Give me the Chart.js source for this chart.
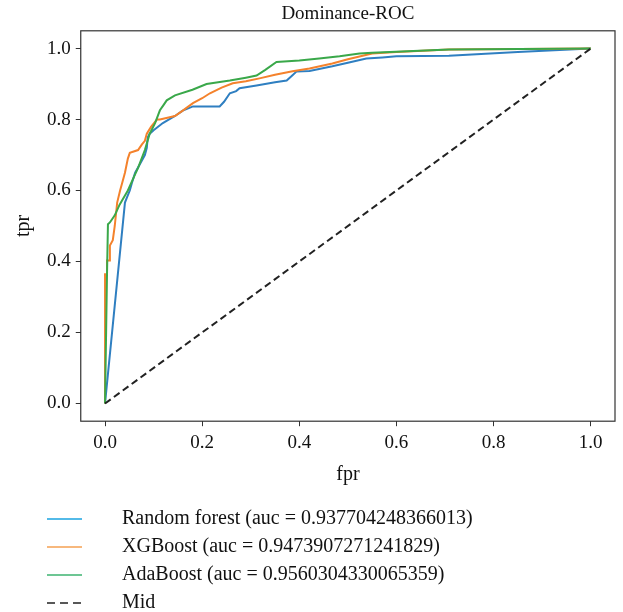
<!DOCTYPE html>
<html>
<head>
<meta charset="utf-8">
<script src="https://cdn.jsdelivr.net/npm/chart.js@4.4.1/dist/chart.umd.min.js"></script>
<style>
  html, body { margin: 0; padding: 0; background: #fff; }
  #wrap { width: 623px; height: 612px; }
</style>
</head>
<body>
<div id="wrap"><canvas id="roc"></canvas></div>
<script>
// ROC points
const rfFpr = [0, 0.041, 0.045, 0.051, 0.055, 0.062, 0.07, 0.082, 0.086, 0.088, 0.092, 0.1, 0.119, 0.144, 0.16, 0.181, 0.236, 0.245, 0.257, 0.27, 0.277, 0.312, 0.35, 0.374, 0.386, 0.394, 0.421, 0.468, 0.5, 0.538, 0.571, 0.6, 0.708, 0.85, 1.0]
const rfTpr = [0, 0.566, 0.58, 0.6, 0.62, 0.65, 0.67, 0.7, 0.72, 0.75, 0.76, 0.77, 0.79, 0.81, 0.825, 0.837, 0.837, 0.85, 0.874, 0.88, 0.888, 0.896, 0.905, 0.91, 0.925, 0.935, 0.937, 0.95, 0.96, 0.972, 0.975, 0.978, 0.98, 0.99, 1.0]

const xgbFpr = [0, 0, 0.004, 0.004, 0.01, 0.01, 0.016, 0.02, 0.025, 0.031, 0.035, 0.041, 0.047, 0.051, 0.068, 0.076, 0.082, 0.086, 0.095, 0.107, 0.113, 0.144, 0.16, 0.181, 0.2, 0.216, 0.24, 0.263, 0.29, 0.318, 0.35, 0.386, 0.421, 0.468, 0.5, 0.55, 0.6, 0.708, 1.0]
const xgbTpr = [0, 0.364, 0.364, 0.403, 0.403, 0.445, 0.46, 0.5, 0.566, 0.6, 0.62, 0.65, 0.69, 0.706, 0.714, 0.73, 0.74, 0.76, 0.78, 0.8, 0.8, 0.81, 0.825, 0.846, 0.86, 0.874, 0.89, 0.902, 0.908, 0.916, 0.926, 0.936, 0.944, 0.958, 0.97, 0.986, 0.99, 0.997, 1.0]

const adaFpr = [0, 0.004, 0.006, 0.01, 0.02, 0.03, 0.047, 0.06, 0.068, 0.082, 0.092, 0.103, 0.113, 0.12, 0.127, 0.144, 0.18, 0.209, 0.257, 0.29, 0.312, 0.33, 0.353, 0.4, 0.441, 0.483, 0.524, 0.55, 0.708, 1.0]
const adaTpr = [0, 0.36, 0.505, 0.51, 0.53, 0.56, 0.6, 0.64, 0.664, 0.714, 0.76, 0.79, 0.826, 0.84, 0.854, 0.868, 0.884, 0.9, 0.91, 0.918, 0.924, 0.94, 0.962, 0.966, 0.972, 0.978, 0.986, 0.988, 0.997, 1.0]

const midFpr = [0, 1]
const midTpr = [0, 1]

const seriesNames = [
  'Random forest (auc = 0.937704248366013)',
  'XGBoost (auc = 0.9473907271241829)',
  'AdaBoost (auc = 0.9560304330065359)',
  'Mid'
]
const xTicks = [0, 0.2, 0.4, 0.6, 0.8, 1.0]
const yTicks = [0, 0.2, 0.4, 0.6, 0.8, 1.0]

const serif = "'Liberation Serif', 'DejaVu Serif', serif"
const lineColors = ['#2f7fc1', '#f4822c', '#3aa84a', '#222']
const keyColors = ['#1aa3e0', '#f5a052', '#3cb371', '#222']

function toPoints(xs, ys) {
  return xs.map((x, i) => ({ x, y: ys[i] }))
}

// legend key: short line on the left part of a wider box so the text sits further right
function legendIcon(color, dash) {
  const c = document.createElement('canvas')
  c.width = 96
  c.height = 4
  const g = c.getContext('2d')
  g.strokeStyle = color
  g.lineWidth = 1.5
  g.setLineDash(dash)
  g.beginPath()
  g.moveTo(31, 2)
  g.lineTo(66, 2)
  g.stroke()
  return c
}

const frame = {
  id: 'frame',
  afterDatasetsDraw(chart) {
    const { ctx, chartArea: a } = chart
    ctx.save()
    ctx.strokeStyle = '#333'
    ctx.lineWidth = 1.2
    ctx.strokeRect(a.left, a.top, a.right - a.left, a.bottom - a.top)
    ctx.restore()
  }
}

function axis(min, max, ticks, label, titlePad) {
  return {
    type: 'linear',
    min,
    max,
    afterBuildTicks: s => { s.ticks = ticks.map(v => ({ value: v })) },
    ticks: {
      callback: v => Number(v).toFixed(1),
      color: '#111',
      font: { family: serif, size: 19 },
      padding: 5,
      maxRotation: 0
    },
    grid: { drawOnChartArea: false, tickLength: 5, color: '#333' },
    border: { display: false },
    title: {
      display: true,
      text: label,
      color: '#111',
      font: { family: serif, size: 20 },
      padding: titlePad
    }
  }
}

const ctx = document.getElementById('roc').getContext('2d')
new Chart(ctx, {
  type: 'scatter',
  data: {
    datasets: [
      { label: seriesNames[0], data: toPoints(rfFpr, rfTpr), borderColor: lineColors[0], order: 4 },
      { label: seriesNames[1], data: toPoints(xgbFpr, xgbTpr), borderColor: lineColors[1], order: 3 },
      { label: seriesNames[2], data: toPoints(adaFpr, adaTpr), borderColor: lineColors[2], order: 2 },
      { label: seriesNames[3], data: toPoints(midFpr, midTpr), borderColor: lineColors[3], borderDash: [7, 4], order: 1 }
    ].map(d => ({ ...d, showLine: true, borderWidth: 2, pointRadius: 0, backgroundColor: d.borderColor }))
  },
  options: {
    responsive: true,
    maintainAspectRatio: false,
    animation: false,
    layout: { padding: { left: 8, right: 8, top: 0, bottom: -11 } },
    plugins: {
      title: {
        display: true,
        text: 'Dominance-ROC',
        fullSize: false,
        color: '#111',
        font: { family: serif, size: 19, weight: 'normal' },
        padding: { top: 3, bottom: 5 }
      },
      legend: {
        position: 'bottom',
        align: 'start',
        labels: {
          usePointStyle: true,
          pointStyleWidth: 96,
          color: '#111',
          font: { family: serif, size: 20 },
          padding: 8,
          // trailing spaces only widen the last entry so it wraps onto its own row
          generateLabels: chart => chart.data.datasets.map((d, i) => ({
            text: i === 3 ? d.label + '        ' : d.label,
            datasetIndex: i,
            fillStyle: keyColors[i],
            strokeStyle: keyColors[i],
            fontColor: '#111',
            lineWidth: 0,
            pointStyle: legendIcon(keyColors[i], i === 3 ? [8, 5] : []),
            hidden: false
          }))
        }
      },
      tooltip: { enabled: false }
    },
    scales: {
      x: axis(-0.05, 1.05, xTicks, 'fpr', { top: 4, bottom: 14 }),
      y: axis(-0.05, 1.05, yTicks, 'tpr', { top: 4, bottom: 6 })
    }
  },
  plugins: [frame]
})
</script>
</body>
</html>
